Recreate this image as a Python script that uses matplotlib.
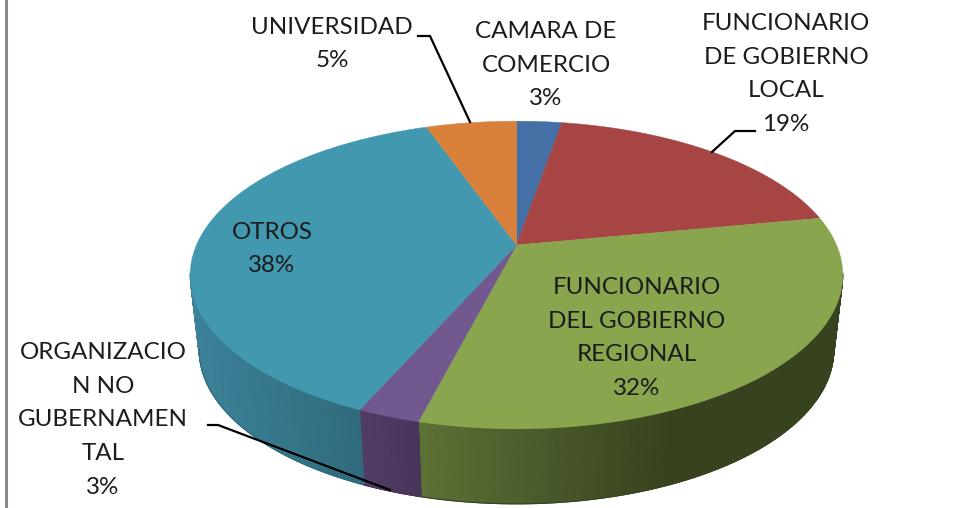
import numpy as np
import matplotlib
matplotlib.use("Agg")
import matplotlib.pyplot as plt
from matplotlib.colors import LinearSegmentedColormap

categories = ["CAMARA DE\nCOMERCIO", "FUNCIONARIO\nDE GOBIERNO\nLOCAL", "FUNCIONARIO\nDEL GOBIERNO\nREGIONAL",
              "ORGANIZACIO\nN NO\nGUBERNAMEN\nTAL", "OTROS", "UNIVERSIDAD"]
values = [2.7, 19.3, 32.0, 2.6, 38.0, 5.4]
top_colors = ["#4470A5", "#A64543", "#89A54E", "#71588F", "#4198AF", "#D9813A"]
# wall shade at the left and right end of each slice's visible wall
wall_colors = [None, None, ("#5D7135", "#37421F"), ("#523C66", "#49355A"), ("#3C8299", "#2F6B7C"), None]
label_pos = [(546, 65), (786, 74), (637, 338), (103, 420), (272, 249), (332, 44)]
leaders = [([418, 430, 470], [36, 36, 122]),
           ([755, 735, 712], [131, 131, 152]),
           ([208, 218, 390], [425, 425, 490])]

CX, CY = 516.5, 245
A, K, G = 320, 148, 0.195
DEPTH, TAPER = 75, 317 / 326


def project(theta):
    # flat circle to picture, with a bit of perspective
    u, v = np.sin(theta), np.cos(theta)
    d = 1 + G * v
    return CX + A * u / d, CY - K * v / d


def wall_bottom(x, y):
    return CX + (x - CX) * TAPER, y + DEPTH


fig = plt.figure(figsize=(9.8, 5.08), dpi=100)
ax = fig.add_axes([0, 0, 1, 1])
ax.set_xlim(0, 980)
ax.set_ylim(508, 0)
ax.axis("off")

edges = np.radians(np.cumsum([0] + values) * 3.6)

# side wall, smooth shade along it
for i, shades in enumerate(wall_colors):
    if shades is None:
        continue
    t = np.linspace(edges[i], edges[i + 1], 200)
    x, y = project(t)
    # only the part below the widest point of the rim is visible
    keep = y >= 272
    x, y = x[keep], y[keep]
    x2, y2 = wall_bottom(x, y)
    f = (x - x.min()) / (x.max() - x.min())
    if i == 2:
        f = np.clip(f / 0.6, 0, 1)
    cmap = LinearSegmentedColormap.from_list("wall", shades)
    ax.pcolormesh(np.vstack([x, x2]), np.vstack([y, y2]), np.vstack([f, f]), cmap=cmap,
                  vmin=0, vmax=1, shading="gouraud", zorder=1)
    # smooth the lower edge of the wall
    ax.plot(x2, y2, color=shades[1], lw=0.8, zorder=1)
    if i == 4:
        ax.plot([x[-1], x2[-1]], [y[-1], y2[-1]], color=shades[0], lw=0.8, zorder=1)
    if i == 2:
        ax.plot([x[0], x2[0]], [y[0], y2[0]], color=shades[1], lw=0.8, zorder=1)

# top face
for i, col in enumerate(top_colors):
    t = np.linspace(edges[i], edges[i + 1], 200)
    x, y = project(t)
    ax.fill(np.r_[CX, x], np.r_[CY, y], color=col, lw=0.3, zorder=2)

for lx, ly in leaders:
    ax.plot(lx, ly, color="black", lw=1.6, zorder=3, solid_joinstyle="round")

for name, val, (px, py) in zip(categories, values, label_pos):
    ax.text(px, py, f"{name}\n{round(val)}%", ha="center", va="center", ma="center",
            fontsize=17.4, family="Lato", color="#1c1c1c", linespacing=1.75, zorder=4)

ax.plot([6, 6], [0, 508], color="#8a8a8a", lw=2.2, zorder=5)

plt.savefig("out.png", dpi=100)
plt.close()
